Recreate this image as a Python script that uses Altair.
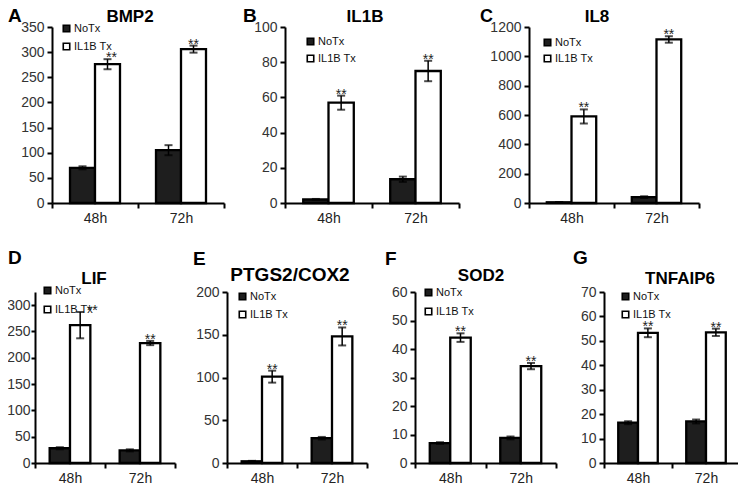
import altair as alt
import pandas as pd

# ---------------- data ----------------
times = ["48h", "72h"]
groups = ["NoTx", "IL1B Tx"]
genes = ["BMP2", "IL1B", "IL8", "LIF", "PTGS2/COX2", "SOD2", "TNFAIP6"]
letters = ["A", "B", "C", "D", "E", "F", "G"]

notx_48 = [70, 2, 5, 28, 2, 7, 16.5]
notx_72 = [105, 13.5, 40, 24, 29, 8.8, 17]
il1b_48 = [276, 57, 590, 262, 101, 44, 53.3]
il1b_72 = [306, 75, 1115, 228, 148, 34, 53.5]
notx_48_err = [3, 0.3, 2, 2, 0.5, 0.3, 0.6]
notx_72_err = [10, 1.5, 6, 2, 1.5, 0.5, 0.8]
il1b_48_err = [10, 4, 48, 25, 7, 1.5, 1.8]
il1b_72_err = [7, 5.8, 22, 4, 10.5, 1.1, 1.5]

y_max = [350, 100, 1200, 325, 200, 60, 70]
y_step = [50, 20, 200, 50, 50, 10, 10]

# ---------------- layout (page pixels) ----------------
M = 8  # page margin
W, H = 730, 478
# x-axis start, x-axis end, plot top, plot bottom
boxes = [
    (52, 224, 27, 203),
    (285, 459, 27, 203),
    (529, 699, 27, 203),
    (35, 175, 292, 463),
    (227, 367, 292, 463),
    (415, 556, 292, 463),
    (604, 740, 292, 463),
]
y_label_pad = [3, 3, 3, 1, 3, 3, 3]
# letter (left x, baseline y, font size), title (center x, baseline y, font size)
letter_pos = [(8, 22, 19), (243, 22, 19), (480, 22, 18), (8, 264, 19),
              (193, 265, 19), (385, 265, 19), (573, 264, 19)]
title_pos = [(130, 22, 17), (365, 22, 17), (597, 22, 17), (94, 284, 17),
             (290, 281, 19), (481, 281, 17), (680, 284, 17)]
# legend: square left x, first-row center y, row gap
legend_pos = [(61, 29, 16), (305, 42, 15), (542, 43, 14), (42, 291, 17),
              (237, 297, 16), (423, 293, 17), (620, 297, 16)]
# sideways nudge of the 48h "**" (to clear the legend text)
star_dx_48 = [4, 0, 0, 12, 0, 0, 0]

FONT = "Liberation Sans"


def make_panel(i):
    rows = []
    vals = [
        ("48h", "NoTx", notx_48[i], notx_48_err[i]),
        ("48h", "IL1B Tx", il1b_48[i], il1b_48_err[i]),
        ("72h", "NoTx", notx_72[i], notx_72_err[i]),
        ("72h", "IL1B Tx", il1b_72[i], il1b_72_err[i]),
    ]
    for t, g, m, e in vals:
        rows.append({"time": t, "group": g, "mean": m, "lo": m - e, "hi": m + e})
    df = pd.DataFrame(rows)

    x0, x1, yt, yb = boxes[i]
    xs = alt.Scale(domain=times, range=[x0 - M, x1 - M], paddingInner=0, paddingOuter=0)
    ys = alt.Scale(domain=[0, y_max[i]], range=[yb - M, yt - M], nice=False, zero=False)
    xos = alt.Scale(domain=groups, paddingInner=0, paddingOuter=0.72)

    x_axis = alt.Axis(orient="bottom", offset=(yb - M) - H, tickBand="extent",
                      domainWidth=2, domainColor="black", tickColor="black",
                      tickWidth=2, tickSize=5, labelFontSize=14, labelColor="#222",
                      labelPadding=3, labelAngle=0, title=None, grid=False,
                      labelFont=FONT)
    y_axis = alt.Axis(orient="left", offset=-(x0 - M), format="d",
                      values=list(range(0, y_max[i] + 1, y_step[i])),
                      domainWidth=2, domainColor="black", tickColor="black",
                      tickWidth=2, tickSize=5 if y_label_pad[i] > 1 else 4,
                      labelFontSize=14, labelColor="#333",
                      labelPadding=y_label_pad[i], title=None, grid=False, labelFont=FONT)

    X = alt.X("time:N", scale=xs, axis=x_axis, sort=times, title=None)
    XO = alt.XOffset("group:N", scale=xos, sort=groups)

    def Y(field):
        return alt.Y(f"{field}:Q", scale=ys, axis=y_axis, title=None)

    lx, ly, gap = legend_pos[i]
    base = alt.Chart(df)
    bars = base.mark_bar(stroke="black", strokeWidth=2.3).encode(
        x=X, xOffset=XO, y=Y("mean"),
        fill=alt.Fill("group:N",
                      scale=alt.Scale(domain=groups, range=["#1e1e1e", "#ffffff"]),
                      legend=alt.Legend(orient="none", legendX=lx - M, legendY=ly - M - 6,
                                        title=None, symbolType="square", symbolSize=42,
                                        symbolStrokeColor="black", symbolStrokeWidth=1.6,
                                        labelFontSize=11, labelFont=FONT, labelColor="#111",
                                        labelOffset=2, rowPadding=gap - 11, padding=0)),
    )
    err = base.mark_rule(color="black", strokeWidth=1.5).encode(
        x=X, xOffset=XO, y=Y("lo"), y2="hi:Q")
    cap_hi = base.mark_tick(color="black", thickness=2, size=8).encode(
        x=X, xOffset=XO, y=Y("hi"))
    cap_lo = base.mark_tick(color="black", thickness=2, size=8).encode(
        x=X, xOffset=XO, y=Y("lo"))
    stars48 = base.transform_filter(
        (alt.datum.group == "IL1B Tx") & (alt.datum.time == "48h")).mark_text(
        text="**", fontSize=14, font=FONT, baseline="alphabetic", dy=3,
        dx=star_dx_48[i], color="#222").encode(x=X, xOffset=XO, y=Y("hi"))
    stars72 = base.transform_filter(
        (alt.datum.group == "IL1B Tx") & (alt.datum.time == "72h")).mark_text(
        text="**", fontSize=14, font=FONT, baseline="alphabetic", dy=3,
        color="#222").encode(x=X, xOffset=XO, y=Y("hi"))

    lxp, lyp, lfs = letter_pos[i]
    letter = alt.Chart(pd.DataFrame({"t": [letters[i]]})).mark_text(
        fontSize=lfs, fontWeight="bold", font=FONT, align="left", baseline="alphabetic",
        color="black").encode(text="t:N", x=alt.value(lxp - M), y=alt.value(lyp - M))
    txp, typ, tfs = title_pos[i]
    title = alt.Chart(pd.DataFrame({"t": [genes[i]]})).mark_text(
        fontSize=tfs, fontWeight="bold", font=FONT, align="center", baseline="alphabetic",
        color="black").encode(text="t:N", x=alt.value(txp - M), y=alt.value(typ - M))

    return alt.layer(bars, err, cap_hi, cap_lo, stars48, stars72, letter, title)


panels = [make_panel(i) for i in range(len(genes))]

chart = alt.layer(*panels).resolve_scale(
    x="independent", y="independent", xOffset="independent", fill="independent"
).resolve_axis(x="independent", y="independent").resolve_legend(
    fill="independent"
).properties(
    width=W, height=H, autosize=alt.AutoSizeParams(type="none"), padding=0,
    background="white"
).configure_view(stroke=None)

chart.save("out.html", embed_options={"renderer": "svg", "actions": False})
